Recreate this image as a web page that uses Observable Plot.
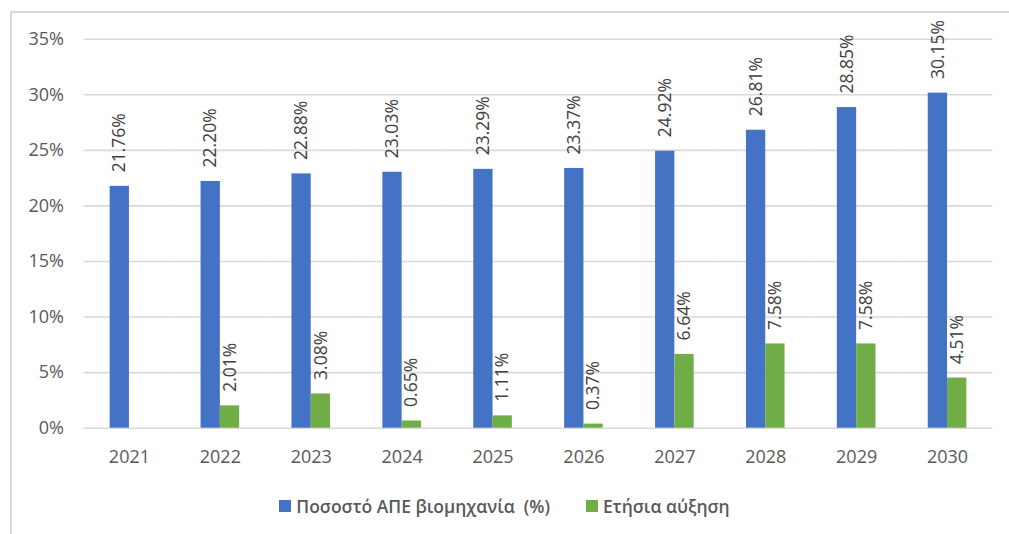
<!DOCTYPE html>
<html>
<head>
<meta charset="utf-8">
<script src="https://cdn.jsdelivr.net/npm/d3@7"></script>
<script src="https://cdn.jsdelivr.net/npm/@observablehq/plot@0.6"></script>
<style>
  html, body { margin: 0; padding: 0; background: #fff; }
  #wrap { position: relative; width: 1009px; height: 534px; overflow: hidden; font-family: "Open Sans", sans-serif; }
  #frame { position: absolute; left: 10px; top: 11px; right: -5px; bottom: -5px; border-top: 2px solid #D9D9D9; border-left: 2px solid #D9D9D9; pointer-events: none; }
  #chart { position: absolute; left: 0; top: 0; }
  #legend { position: absolute; left: 0; top: 470px; width: 1009px; height: 70px; display: flex; justify-content: center; align-items: flex-start; padding-top: 24px; box-sizing: border-box; font-size: 17.5px; color: #595959; font-weight: 600; }
  .item { display: flex; align-items: center; margin: 0 18px; }
  .sw { width: 12px; height: 12px; margin-right: 5px; }
</style>
</head>
<body>
<div id="wrap">
  <div id="chart"></div>
  <div id="legend"></div>
  <div id="frame"></div>
</div>
<script>
const years = ["2021","2022","2023","2024","2025","2026","2027","2028","2029","2030"];
const seriesNames = ["Ποσοστό ΑΠΕ βιομηχανία  (%)", "Ετήσια αύξηση"];
const shareValues = [21.76, 22.20, 22.88, 23.03, 23.29, 23.37, 24.92, 26.81, 28.85, 30.15];
const growthValues = [null, 2.01, 3.08, 0.65, 1.11, 0.37, 6.64, 7.58, 7.58, 4.51];
const yTicks = [0, 5, 10, 15, 20, 25, 30, 35];
const colors = ["#4472C4", "#70AD47"];

const data = [];
years.forEach((y, i) => {
  data.push({year: y, series: seriesNames[0], value: shareValues[i]});
  if (growthValues[i] != null) data.push({year: y, series: seriesNames[1], value: growthValues[i]});
});

const chart = Plot.plot({
  width: 1009,
  height: 470,
  marginLeft: 83.5,
  marginRight: 16.5,
  marginTop: 38.7,
  marginBottom: 42.3,
  style: {fontFamily: "Open Sans, sans-serif", background: "transparent", overflow: "visible"},
  fx: {domain: years, padding: 0, round: false, label: null},
  x: {domain: seriesNames, paddingInner: 0, paddingOuter: 1.355, round: false, axis: null},
  y: {domain: [0, 35], label: null},
  color: {domain: seriesNames, range: colors},
  marks: [
    Plot.gridY(yTicks, {stroke: "#D9D9D9", strokeOpacity: 1, strokeWidth: 1.6}),
    Plot.axisY(yTicks, {tickSize: 0, tickPadding: 20, tickFormat: d => d + "%", fontSize: 18, fill: "#595959", label: null}),
    Plot.axisFx({anchor: "bottom", tickSize: 0, tickPadding: 22, fontSize: 18, fill: "#595959", label: null}),
    Plot.barY(data, {fx: "year", x: "series", y: "value", fill: "series"}),
    Plot.text(data, {fx: "year", x: "series", y: "value", text: d => d.value.toFixed(2) + "%", rotate: -90, textAnchor: "start", dy: -14, fill: "#404040", fontSize: 17.5})
  ]
});
document.getElementById("chart").appendChild(chart);

const legend = document.getElementById("legend");
seriesNames.forEach((name, i) => {
  const item = document.createElement("div");
  item.className = "item";
  const sw = document.createElement("div");
  sw.className = "sw";
  sw.style.background = colors[i];
  const label = document.createElement("span");
  label.textContent = name;
  label.style.whiteSpace = "pre";
  item.appendChild(sw);
  item.appendChild(label);
  legend.appendChild(item);
});
</script>
</body>
</html>
